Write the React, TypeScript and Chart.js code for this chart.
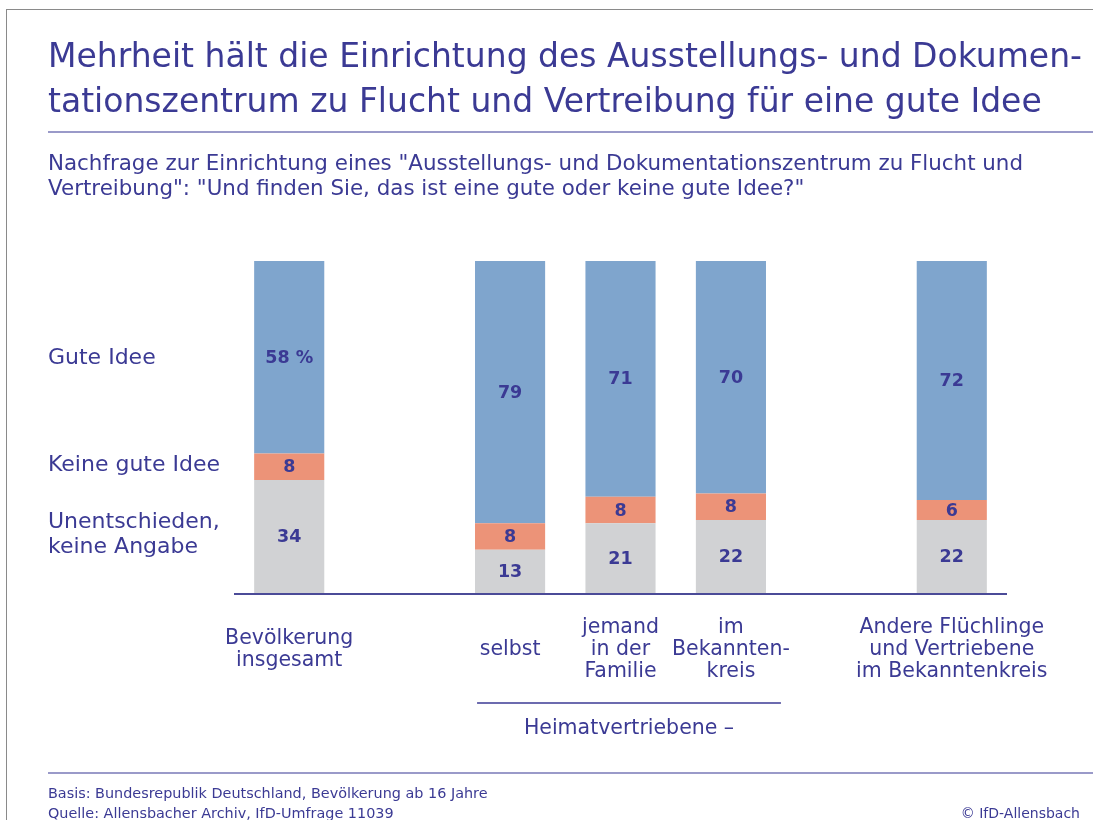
import React, { useEffect, useRef } from "react";
import { Chart, registerables } from "chart.js";

Chart.register(...registerables);

const categoryLabels: string[][] = [
  ["Bevölkerung", "insgesamt"],
  [],
  ["selbst"],
  ["jemand", "in der", "Familie"],
  ["im", "Bekannten-", "kreis"],
  [],
  ["Andere Flüchlinge", "und Vertriebene", "im Bekanntenkreis"],
];
const unentschiedenValues: (number | null)[] = [34, null, 13, 21, 22, null, 22];
const keineGuteIdeeValues: (number | null)[] = [8, null, 8, 8, 8, null, 6];
const guteIdeeValues: (number | null)[] = [58, null, 79, 71, 70, null, 72];
const seriesNames = ["Unentschieden, keine Angabe", "Keine gute Idee", "Gute Idee"];

const TEXT = "#3b3a94";
const FONT = "'DejaVu Sans', 'Liberation Sans', sans-serif";

const labelPlugin = {
  id: "customLabels",
  afterDatasetsDraw(chart: any) {
    const ctx = chart.ctx;
    const area = chart.chartArea;
    ctx.save();
    // baseline axis
    ctx.strokeStyle = "#4b4b98";
    ctx.lineWidth = 2;
    ctx.beginPath();
    ctx.moveTo(area.left, area.bottom + 1);
    ctx.lineTo(area.right, area.bottom + 1);
    ctx.stroke();

    // values
    ctx.fillStyle = TEXT;
    ctx.font = `bold 17.5px ${FONT}`;
    ctx.textAlign = "center";
    ctx.textBaseline = "middle";
    chart.data.datasets.forEach((ds: any, di: number) => {
      const meta = chart.getDatasetMeta(di);
      meta.data.forEach((el: any, i: number) => {
        const v = ds.data[i];
        if (v == null) return;
        const p = el.getProps(["x", "y", "base"], true);
        let txt = String(v);
        if (di === 2 && i === 0) txt = v + " %";
        ctx.fillText(txt, p.x, (p.y + p.base) / 2 + 1);
      });
    });

    // category labels
    const xs = chart.scales.x;
    ctx.font = `20.5px ${FONT}`;
    const lh = 22;
    const centerY = area.bottom + 57;
    categoryLabels.forEach((lines, i) => {
      if (!lines.length) return;
      const x = xs.getPixelForValue(i);
      const y0 = centerY - ((lines.length - 1) * lh) / 2;
      lines.forEach((l, k) => ctx.fillText(l, x, y0 + k * lh));
    });

    // group bracket line
    const gx1 = xs.getPixelForValue(2) - 33;
    const gx2 = xs.getPixelForValue(4) + 50;
    ctx.strokeStyle = "#3b3a94";
    ctx.lineWidth = 1.5;
    ctx.beginPath();
    ctx.moveTo(gx1, area.bottom + 110);
    ctx.lineTo(gx2, area.bottom + 110);
    ctx.stroke();
    ctx.fillText("Heimatvertriebene –", (gx1 + gx2) / 2, area.bottom + 136);
    ctx.restore();
  },
};

export default function App() {
  const ref = useRef<HTMLCanvasElement>(null);
  useEffect(() => {
    if (!ref.current) return;
    const chart = new Chart(ref.current, {
      type: "bar",
      data: {
        labels: categoryLabels.map((l) => l.join(" ")),
        datasets: [
          { label: seriesNames[0], data: unentschiedenValues, backgroundColor: "#d1d2d4" },
          { label: seriesNames[1], data: keineGuteIdeeValues, backgroundColor: "#ec9378" },
          { label: seriesNames[2], data: guteIdeeValues, backgroundColor: "#7fa5cd" },
        ],
      },
      options: {
        animation: false,
        responsive: false,
        maintainAspectRatio: false,
        layout: { padding: { left: 234, right: 86, top: 261, bottom: 227 } },
        datasets: { bar: { barPercentage: 0.635, categoryPercentage: 1 } },
        scales: {
          x: { stacked: true, display: false },
          y: { stacked: true, display: false, min: 0, max: 100 },
        },
        plugins: { legend: { display: false }, tooltip: { enabled: false } },
      },
      plugins: [labelPlugin],
    });
    return () => chart.destroy();
  }, []);

  const abs = (s: React.CSSProperties): React.CSSProperties => ({
    position: "absolute",
    color: TEXT,
    fontFamily: FONT,
    whiteSpace: "nowrap",
    ...s,
  });

  return (
    <div style={{ position: "fixed", left: 0, top: 0, width: 1093, height: 820, background: "#fff", overflow: "hidden" }}>
      <canvas ref={ref} width={1093} height={820} style={{ position: "absolute", left: 0, top: 0 }} />
      <div style={{ position: "absolute", left: 6, top: 9, width: 1200, height: 900, borderLeft: "1.5px solid #8a8a8a", borderTop: "1.5px solid #8a8a8a" }} />
      <div style={abs({ left: 48, top: 33, fontSize: 33, lineHeight: "45px" })}>
        Mehrheit hält die Einrichtung des Ausstellungs- und Dokumen-
        <br />
        tationszentrum zu Flucht und Vertreibung für eine gute Idee
      </div>
      <div style={{ position: "absolute", left: 48, top: 131, width: 1045, height: 2, background: "#9a9ac9" }} />
      <div style={abs({ left: 48, top: 150, fontSize: 21.4, lineHeight: "25px" })}>
        Nachfrage zur Einrichtung eines "Ausstellungs- und Dokumentationszentrum zu Flucht und
        <br />
        Vertreibung": "Und finden Sie, das ist eine gute oder keine gute Idee?"
      </div>
      <div style={abs({ left: 48, top: 344, fontSize: 22, lineHeight: "26px" })}>Gute Idee</div>
      <div style={abs({ left: 48, top: 451, fontSize: 22, lineHeight: "26px" })}>Keine gute Idee</div>
      <div style={abs({ left: 48, top: 508, fontSize: 22, lineHeight: "25px" })}>
        Unentschieden,
        <br />
        keine Angabe
      </div>
      <div style={{ position: "absolute", left: 48, top: 772, width: 1045, height: 2, background: "#9a9ac9" }} />
      <div style={abs({ left: 48, top: 783, fontSize: 14.4, lineHeight: "20px" })}>
        Basis: Bundesrepublik Deutschland, Bevölkerung ab 16 Jahre
        <br />
        Quelle: Allensbacher Archiv, IfD-Umfrage 11039
      </div>
      <div style={abs({ right: 13, top: 803, fontSize: 14, lineHeight: "20px" })}>© IfD-Allensbach</div>
    </div>
  );
}
